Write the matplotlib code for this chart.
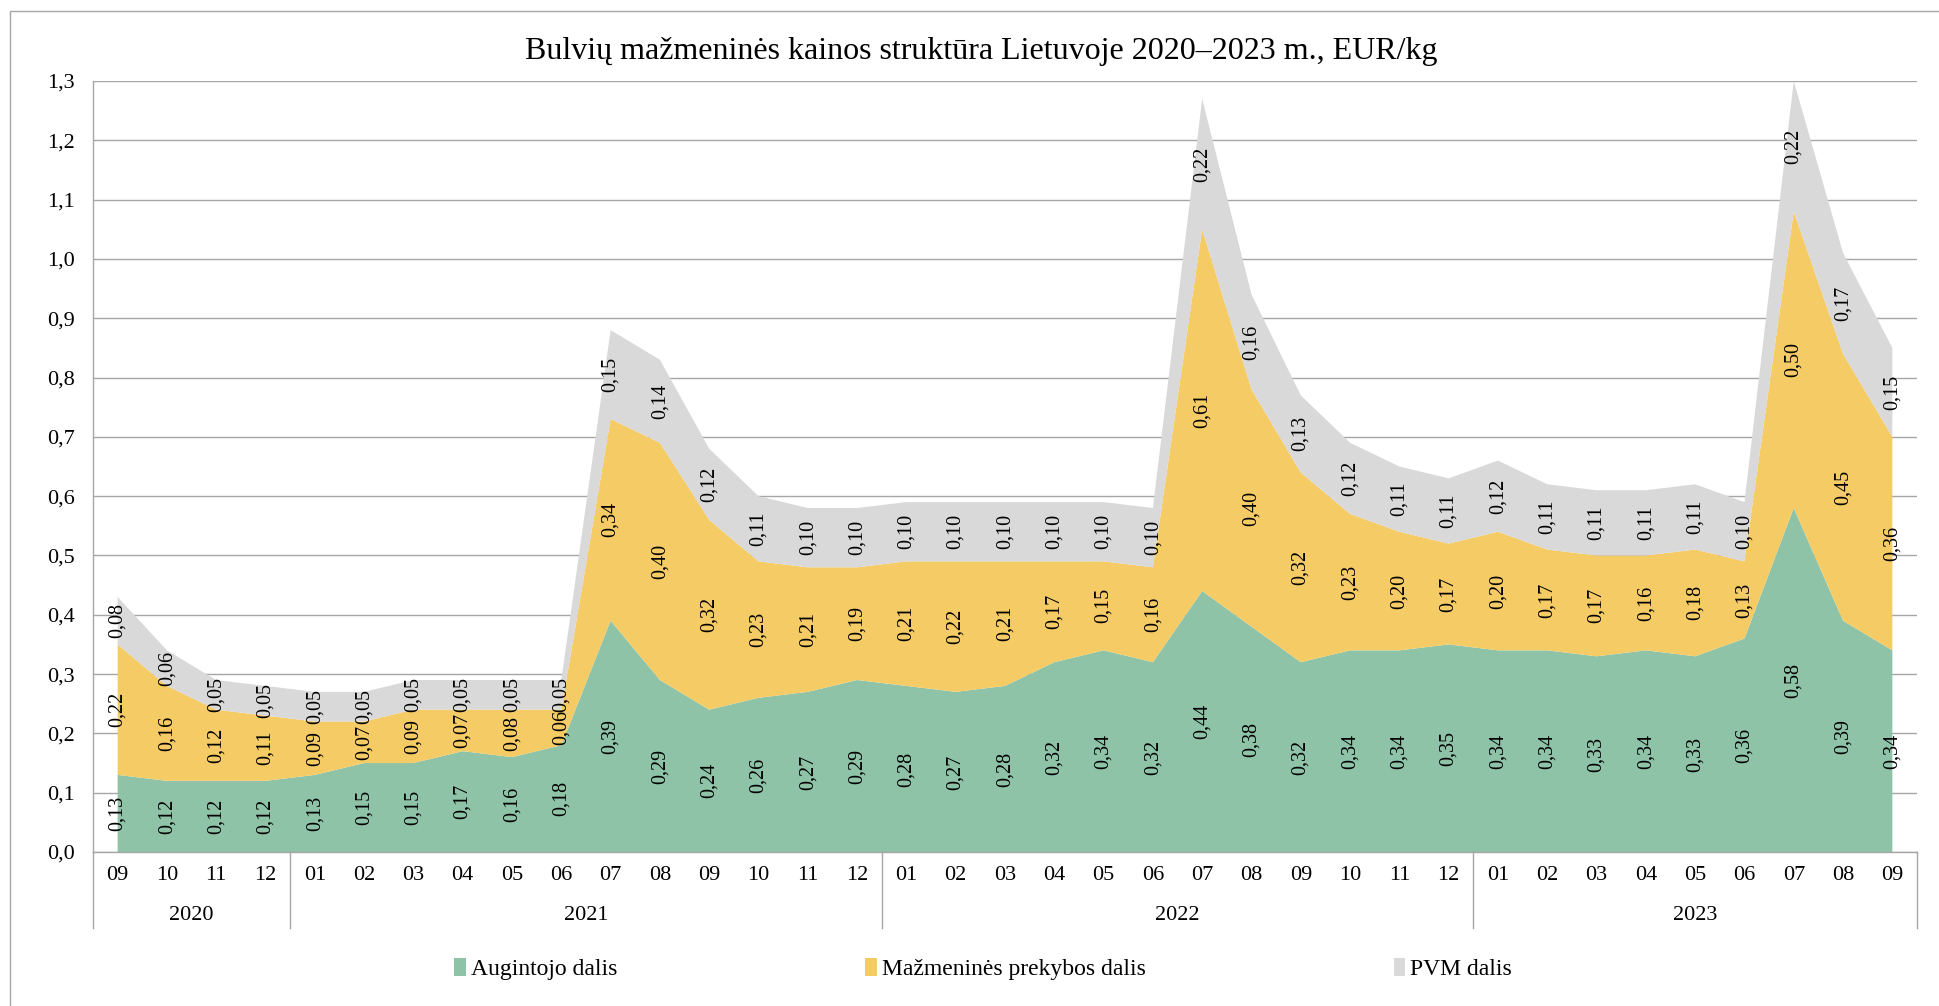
import numpy as np
import matplotlib
matplotlib.use("Agg")
import matplotlib.pyplot as plt
import matplotlib.transforms as mtransforms
from matplotlib.patches import Patch, Rectangle

plt.rcParams['font.family'] = ['Liberation Serif', 'DejaVu Serif']

# duomenys
months = ["09", "10", "11", "12",
          "01", "02", "03", "04", "05", "06", "07", "08", "09", "10", "11", "12",
          "01", "02", "03", "04", "05", "06", "07", "08", "09", "10", "11", "12",
          "01", "02", "03", "04", "05", "06", "07", "08", "09"]
years = ["2020", "2021", "2022", "2023"]
year_counts = [4, 12, 12, 9]

augintojo = [0.13, 0.12, 0.12, 0.12,
             0.13, 0.15, 0.15, 0.17, 0.16, 0.18, 0.39, 0.29, 0.24, 0.26, 0.27, 0.29,
             0.28, 0.27, 0.28, 0.32, 0.34, 0.32, 0.44, 0.38, 0.32, 0.34, 0.34, 0.35,
             0.34, 0.34, 0.33, 0.34, 0.33, 0.36, 0.58, 0.39, 0.34]
mazmenines = [0.22, 0.16, 0.12, 0.11,
              0.09, 0.07, 0.09, 0.07, 0.08, 0.06, 0.34, 0.40, 0.32, 0.23, 0.21, 0.19,
              0.21, 0.22, 0.21, 0.17, 0.15, 0.16, 0.61, 0.40, 0.32, 0.23, 0.20, 0.17,
              0.20, 0.17, 0.17, 0.16, 0.18, 0.13, 0.50, 0.45, 0.36]
pvm = [0.08, 0.06, 0.05, 0.05,
       0.05, 0.05, 0.05, 0.05, 0.05, 0.05, 0.15, 0.14, 0.12, 0.11, 0.10, 0.10,
       0.10, 0.10, 0.10, 0.10, 0.10, 0.10, 0.22, 0.16, 0.13, 0.12, 0.11, 0.11,
       0.12, 0.11, 0.11, 0.11, 0.11, 0.10, 0.22, 0.17, 0.15]

series_names = ["Augintojo dalis", "Mažmeninės prekybos dalis", "PVM dalis"]
colors = ["#8EC3A7", "#F5CB65", "#D9D9D9"]
grid_c = "#A6A6A6"

x = np.arange(len(months))
data = [np.array(augintojo), np.array(mazmenines), np.array(pvm)]

fig = plt.figure(figsize=(19.39, 10.06), dpi=100)
ax = fig.add_axes([93/1939, 1-852/1006, (1917-93)/1939, (852-81)/1006])

ax.stackplot(x, *data, colors=colors, linewidth=0)

# etiketes
base = np.zeros(len(x))
for vals in data:
    for i, v in enumerate(vals):
        ax.text(x[i], base[i] + v/2, f"{v:.2f}".replace(".", ","), rotation=90,
                ha="center", va="center", fontsize=14.5, color="black")
    base = base + vals

ax.set_xlim(-0.5, len(x) - 0.5)
ax.set_ylim(0, 1.3)
yt = np.round(np.arange(0, 1.31, 0.1), 1)
ax.set_yticks(yt)
ax.set_yticklabels([f"{v:.1f}".replace(".", ",") for v in yt], fontsize=16)
ax.yaxis.grid(True, color=grid_c, linewidth=1.0)
ax.set_axisbelow(True)
ax.set_xticks(x)
ax.set_xticklabels(months, fontsize=16)
ax.tick_params(axis="x", length=0, pad=10)
ax.tick_params(axis="y", length=0, pad=13)
for s in ["top", "right"]:
    ax.spines[s].set_visible(False)
for s in ["left", "bottom"]:
    ax.spines[s].set_color(grid_c)
    ax.spines[s].set_linewidth(1.0)

# metu grupes
trans = mtransforms.blended_transform_factory(ax.transData, ax.transAxes)
y_sep = -(928-852)/(852-81)
y_year = -(915-852)/(852-81)
start = -0.5
ax.plot([start, start], [0, y_sep], color=grid_c, lw=1.0, transform=trans, clip_on=False)
for yr, n in zip(years, year_counts):
    end = start + n
    ax.plot([end, end], [0, y_sep], color=grid_c, lw=1.0, transform=trans, clip_on=False)
    ax.text((start + end)/2, y_year, yr, transform=trans, ha="center", va="center", fontsize=16)
    start = end

fig.text(0.506, 1-51/1006, "Bulvių mažmeninės kainos struktūra Lietuvoje 2020–2023 m., EUR/kg",
         ha="center", va="center", fontsize=23)

handles = [Patch(facecolor=c, edgecolor="none", label=l) for c, l in zip(colors, series_names)]
fig.legend(handles=handles, loc="center", bbox_to_anchor=(0.507, 1-969/1006), ncol=3,
           frameon=False, fontsize=17, handlelength=0.5, handleheight=0.8,
           handletextpad=0.2, columnspacing=10.5)

fig.add_artist(Rectangle((10/1939, -0.05), 1.2, 1-11/1006+0.05, transform=fig.transFigure,
                         fill=False, edgecolor="#A6A6A6", linewidth=1.0))

fig.savefig("out.png", dpi=100)
